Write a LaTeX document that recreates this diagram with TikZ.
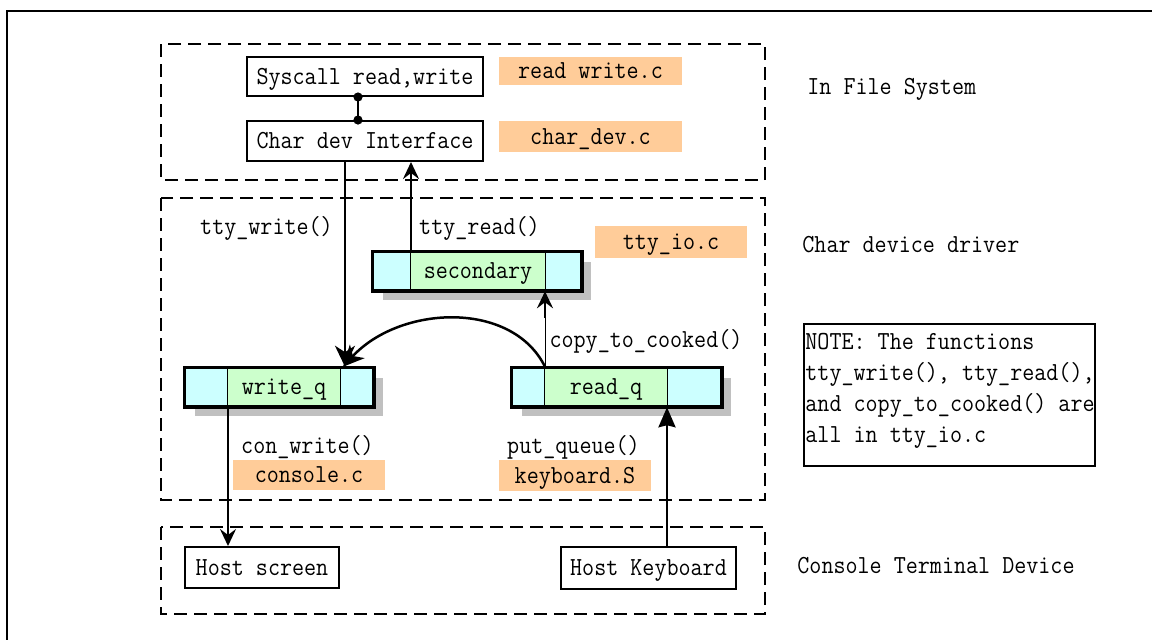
\documentclass[tikz,border=0pt]{standalone}
\usepackage{fontspec}
\setmonofont[FakeStretch=0.9]{Latin Modern Mono}
\usetikzlibrary{arrows.meta,shadows}
\definecolor{orng}{RGB}{255,204,153}
\definecolor{qcyan}{RGB}{204,255,255}
\definecolor{qgreen}{RGB}{204,255,204}
\definecolor{shd}{RGB}{192,192,192}
\tikzset{
  txt/.style={inner sep=0pt, text height=9.8pt, text depth=2pt},
  plainbox/.style={txt, draw, line width=1pt, fill=white},
  filebox/.style={txt, fill=orng},
  region/.style={draw, line width=1pt, dash pattern=on 6.5pt off 3.5pt},
  qbox/.style={draw, line width=1.25pt, fill=qcyan, minimum height=19pt,
    general shadow={fill=shd, shadow xshift=5pt, shadow yshift=-5pt}},
  qmid/.style={txt, fill=qgreen, minimum height=18pt},
  conn/.style={line width=1.25pt},
  bigtip/.style={-{Stealth[length=10.5pt,width=10pt,inset=3.2pt]}},
  opentip/.style={-{Stealth[length=8.5pt,width=8pt,inset=3pt]}},
  tritip/.style={-{Stealth[length=10pt,width=8.5pt,inset=1pt]}},
}
\begin{document}
\begin{tikzpicture}[x=0.5pt,y=-0.5pt, font=\ttfamily\fontsize{13}{15.5}\selectfont]
\useasboundingbox (0,0) rectangle (1152,639);
\clip (0,0) rectangle (1152,639);
% outer frame
\draw[line width=1.25pt] (7,700) -- (7,11) -- (1200,11);
% regions
\draw[region] (161,44) rectangle (765,180);
\draw[region] (161,198) rectangle (765,500);
\draw[region] (161,527) rectangle (765,614);
% region labels
\node[txt, anchor=west] (lfs) at (807,87) {In File System};
\node[txt, anchor=west] (lcd) at (802,245) {Char device driver};
\node[txt, anchor=west] (lct) at (797,566) {Console Terminal Device};
% file system
\node[plainbox, minimum width=118pt, minimum height=19.5pt] (sys) at (365,76.5) {Syscall read,write};
\node[plainbox, minimum width=118pt, minimum height=20pt] (cdi) at (365,141) {Char dev Interface};
\node[filebox, minimum width=91.5pt, minimum height=14pt] (frw) at (590.5,71) {read write.c};
\node[filebox, minimum width=91.5pt, minimum height=15.5pt] (fcd) at (590.5,136.5) {char\_dev.c};
% char device driver
\node[filebox, minimum width=76pt, minimum height=16pt] (ftio) at (671,242) {tty\_io.c};
\node[txt] (ltw) at (266.5,227) {tty\_write()};
\node[txt] (ltr) at (479.5,227) {tty\_read()};
\node[txt] (lcc) at (646,340) {copy\_to\_cooked()};
\node[txt] (lcw) at (307.5,446) {con\_write()};
\node[txt] (lpq) at (573.5,446) {put\_queue()};
\node[filebox, minimum width=76pt, minimum height=15pt] (fcon) at (309,475) {console.c};
\node[filebox, minimum width=76pt, minimum height=15.5pt] (fkb) at (575,475.5) {keyboard.S};
% queues
\node[qbox, minimum width=104pt] (sec) at (477,271) {};
\node[qmid, minimum width=67pt] (secm) at (478,271) {secondary};
\draw[line width=0.75pt] (secm.north west) -- (secm.south west) (secm.north east) -- (secm.south east);
\draw[line width=1.25pt] (sec.north west) rectangle (sec.south east);
\node[qbox, minimum width=94pt] (wq) at (279,387) {};
\node[qmid, minimum width=56pt] (wqm) at (284,387) {write\_q};
\draw[line width=0.75pt] (wqm.north west) -- (wqm.south west) (wqm.north east) -- (wqm.south east);
\draw[line width=1.25pt] (wq.north west) rectangle (wq.south east);
\node[qbox, minimum width=104.5pt] (rq) at (616.5,387) {};
\node[qmid, minimum width=61pt] (rqm) at (606,387) {read\_q};
\draw[line width=0.75pt] (rqm.north west) -- (rqm.south west) (rqm.north east) -- (rqm.south east);
\draw[line width=1.25pt] (rq.north west) rectangle (rq.south east);
% console devices
\node[plainbox, minimum width=77pt, minimum height=20.5pt] (hs) at (262,567.5) {Host screen};
\node[plainbox, minimum width=87.5pt, minimum height=21pt] (hk) at (648.5,568) {Host Keyboard};
% note
\node[draw, line width=1pt, minimum width=145.5pt, minimum height=71pt, anchor=north west] (note) at (803,323) {};
\node[anchor=north west, align=left, inner sep=0pt] (notet) at (805,333) {NOTE: The functions\\tty\_write(), tty\_read(),\\and copy\_to\_cooked() are\\all in tty\_io.c};
% connector x positions
\coordinate (xa) at (345,0);
\coordinate (xb) at (411,0);
\coordinate (xc) at (545,0);
\coordinate (xd) at (228,0);
\coordinate (xe) at (667,0);
\coordinate (xf) at (358,0);
\coordinate (xg) at (545,318);
% connectors
\draw[conn] (sys.south -| xf) -- (cdi.north -| xf);
\fill (sys.south -| xf) circle (2.3pt) (cdi.north -| xf) circle (2.3pt);
\draw[conn, bigtip] (cdi.south -| xa) -- (wq.north -| xa);
\draw[conn, opentip] (sec.north -| xb) -- (cdi.south -| xb);
\draw[line width=0.4pt] (rq.north -| xc) -- (sec.south -| xc);
\draw[conn, opentip] (xg) -- (sec.south -| xc);
\draw[conn, bigtip] (rq.north -| xc) .. controls (512,300) and (400,305) .. ([xshift=-1pt]wq.north -| xa);
\draw[conn, opentip] (wq.south -| xd) -- (hs.north -| xd);
\draw[conn, tritip] (hk.north -| xe) -- (rq.south -| xe);
\end{tikzpicture}
\end{document}
